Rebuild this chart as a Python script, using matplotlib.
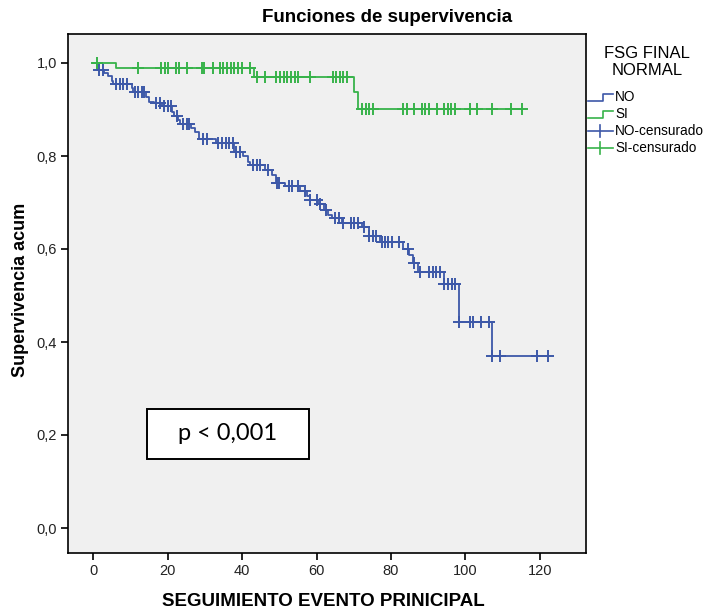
import numpy as np
import matplotlib
matplotlib.use("Agg")
import matplotlib.pyplot as plt
from matplotlib.patches import Rectangle

# ---------------- data ----------------
title = "Funciones de supervivencia"
xlabel = "SEGUIMIENTO EVENTO PRINICIPAL"
ylabel = "Supervivencia acum"
legend_title = "FSG FINAL\nNORMAL"
legend_labels = ["NO", "SI", "NO-censurado", "SI-censurado"]
pvalue_text = "p < 0,001"

x_ticks = [0, 20, 40, 60, 80, 100, 120]
y_ticks = [0.0, 0.2, 0.4, 0.6, 0.8, 1.0]
y_tick_labels = ["0,0", "0,2", "0,4", "0,6", "0,8", "1,0"]

# Group NO : event times and survival after each event
no_event_times = [1.0, 3.0, 4.1, 5.2, 5.5, 10.4, 10.8, 14.2, 15.1, 16.5, 18.4,
                  21.1, 21.8, 22.9, 23.4, 26.3, 27.4, 28.5, 33.0, 37.9, 40.2,
                  41.5, 42.1, 46.2, 48.0, 49.0, 51.5, 55.5, 57.5, 58.3, 60.5,
                  62.0, 63.2, 64.2, 66.8, 72.1, 74.1, 77.0, 83.1, 84.9, 86.0,
                  87.2, 94.2, 98.3, 107.2]
no_survival = [0.986, 0.978, 0.973, 0.962, 0.954, 0.946, 0.938, 0.926, 0.917,
               0.913, 0.908, 0.894, 0.886, 0.877, 0.869, 0.860, 0.851, 0.837,
               0.827, 0.808, 0.799, 0.788, 0.781, 0.770, 0.759, 0.743, 0.735,
               0.725, 0.714, 0.705, 0.697, 0.684, 0.673, 0.666, 0.655, 0.648,
               0.627, 0.616, 0.599, 0.587, 0.569, 0.551, 0.524, 0.444, 0.370]
no_censored = [1.7, 2.6, 6.2, 7.2, 8.1, 9.0, 11.3, 12.2, 13.1, 13.8, 16.9, 18.0,
               19.1, 20.1, 20.9, 22.5, 24.2, 25.2, 25.9, 29.6, 30.5, 33.6, 34.6,
               35.6, 36.5, 37.5, 38.5, 39.5, 43.0, 43.9, 44.8, 47.1, 49.3, 50.0,
               52.5, 53.5, 55.0, 57.0, 58.3, 60.1, 60.9, 62.6, 65.0, 66.1, 67.0,
               69.3, 70.2, 71.1, 72.8, 74.2, 75.1, 76.0, 77.7, 78.4, 79.3, 80.3,
               82.1, 84.5, 86.2, 87.8, 90.3, 91.2, 92.1, 93.2, 94.3, 95.4, 96.3,
               97.2, 98.3, 101.2, 101.9, 104.2, 106.3, 107.2, 109.3, 119.1, 122.2]
no_end = 122.2

# Group SI
si_event_times = [6.1, 43.2, 70.2, 71.2]
si_survival = [0.989, 0.970, 0.937, 0.902]
si_censored = [1.0, 12.0, 18.2, 19.2, 20.1, 22.2, 23.1, 25.2, 29.2, 29.9, 32.1,
               34.1, 35.0, 35.9, 37.0, 37.9, 39.0, 40.1, 42.1, 44.1, 46.2, 49.1,
               50.2, 51.3, 52.2, 53.1, 54.2, 55.1, 58.2, 64.3, 65.2, 66.3, 67.2,
               68.2, 72.1, 73.2, 74.2, 75.1, 83.1, 84.2, 86.2, 88.2, 89.1, 90.2,
               92.3, 94.2, 95.2, 96.1, 97.2, 101.2, 103.2, 107.2, 112.2, 115.3]
si_end = 115.3

BLUE = "#3d58a8"
GREEN = "#37b34a"

# ---------------- figure ----------------
plt.rcParams['font.family'] = ['Liberation Sans', 'DejaVu Sans']
W, H = 708, 610
fig = plt.figure(figsize=(W / 100, H / 100), dpi=100)
fig.patch.set_facecolor("white")

L, R, T, B = 68, 586, 34, 553
ax = fig.add_axes([L / W, 1 - B / H, (R - L) / W, (B - T) / H])
ax.set_facecolor("#f0f0f0")


def km_curve(times, surv, end):
    xs = np.concatenate([[0.0], np.asarray(times, float), [end]])
    ys = np.concatenate([[1.0], np.asarray(surv, float), [surv[-1]]])
    return xs, ys


def surv_at(t, times, surv):
    idx = np.searchsorted(np.asarray(times), np.asarray(t), side="right")
    s = np.concatenate([[1.0], np.asarray(surv, float)])
    return s[idx]


for times, surv, cens, end, col in [
        (no_event_times, no_survival, no_censored, no_end, BLUE),
        (si_event_times, si_survival, si_censored, si_end, GREEN)]:
    xs, ys = km_curve(times, surv, end)
    ax.step(xs, ys, where="post", color=col, lw=1.3, zorder=3)
    ax.plot(cens, surv_at(cens, times, surv), ls="none", marker="+",
            ms=9, mew=1.4, color=col, zorder=4)

ax.set_xlim((L - 93) / 3.725, (R - 93) / 3.725)
ax.set_ylim((528 - B) / 465, (528 - T) / 465)
ax.set_xticks(x_ticks)
ax.set_xticklabels([str(v) for v in x_ticks])
ax.set_yticks(y_ticks)
ax.set_yticklabels(y_tick_labels)
ax.tick_params(direction="out", length=5, width=1.2, color="black",
               labelsize=10.5, labelcolor="#222222", pad=3)
for sp in ax.spines.values():
    sp.set_color("black")
    sp.set_linewidth(1.2)

fig.text(323 / W, 1 - 601 / H, xlabel, fontsize=13.5, fontweight="bold",
         ha="center", va="center")
fig.text(21 / W, 1 - 290 / H, ylabel, fontsize=13, fontweight="bold",
         ha="center", va="center", rotation=90)
fig.text(387 / W, 1 - 18 / H, title, fontsize=13.5, fontweight="bold",
         ha="center", va="center")

# ---------------- overlay (pixel coords) for legend and p-box ----------------
ov = fig.add_axes([0, 0, 1, 1])
ov.set_xlim(0, W)
ov.set_ylim(H, 0)
ov.axis("off")
ov.patch.set_alpha(0)

ov.text(647, 62, legend_title, fontsize=12, ha="center", va="center",
        linespacing=1.1)
entry_y = [97, 114, 131, 148]
cols = [BLUE, GREEN, BLUE, GREEN]
for i, (lab, yy, c) in enumerate(zip(legend_labels, entry_y, cols)):
    if i < 2:
        ov.plot([588, 603, 603, 613], [yy + 4, yy + 4, yy - 3, yy - 3],
                color=c, lw=1.2)
    else:
        ov.plot([588, 613], [yy, yy], color=c, lw=1.2)
        ov.plot([600, 600], [yy - 6, yy + 6], color=c, lw=1.2)
    ov.text(615, yy, lab, fontsize=9.8, ha="left", va="center")

ov.add_patch(Rectangle((147, 409), 162, 50, fill=True, facecolor="white",
                       edgecolor="black", lw=1.4))
ov.text(228, 434, pvalue_text, fontsize=17, family=["Lato", "DejaVu Sans"],
        ha="center", va="center")

fig.savefig("out.png", dpi=100, facecolor="white")
